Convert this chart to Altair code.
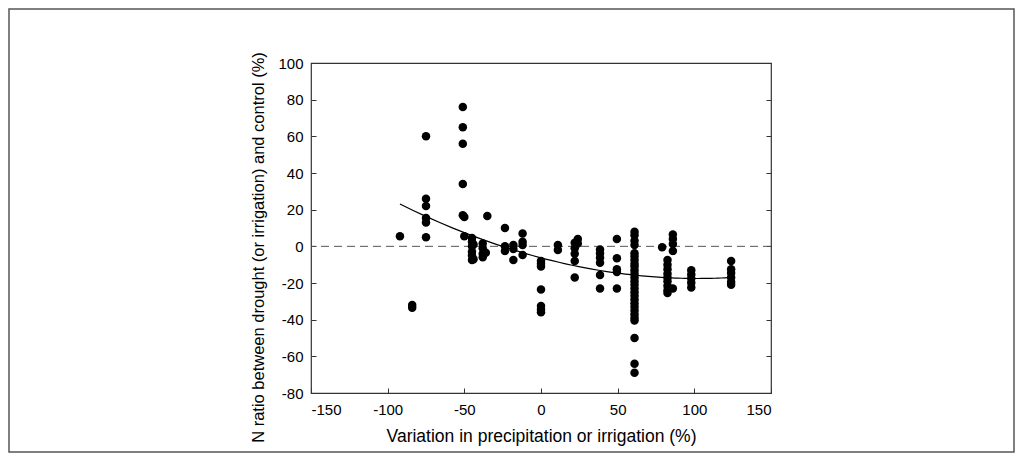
import altair as alt
import pandas as pd

# Data: each x column with its y values
col_x = [-92, -84, -75, -51, -50, -45, -44, -38, -36, -35, -23.5, -18, -12,
         0, 11, 22, 24, 38.5, 49.5, 61, 79, 82.5, 86, 98, 124]
col_y = [
    [5.5],
    [-32, -33.5],
    [60, 26, 22, 15.5, 13, 5],
    [76, 65, 56, 34, 17],
    [16, 5.5],
    [4.5, 2.5, 0, -3, -5, -7.5],
    [1, -7],
    [1.5, -1, -4, -6],
    [-3.5],
    [16.5],
    [10, 0, -2.5],
    [0.7, -1.5, -7.5],
    [7, 2.5, 0.7, -4.7],
    [-8, -9.5, -11, -23.5, -32.5, -34.5, -36],
    [0.7, -2],
    [2, -1, -4, -8, -17],
    [4, 1.5],
    [-1.7, -3.8, -6.2, -9, -15.7, -23],
    [4, -6.5, -12.5, -14, -23],
    [8, 6, 3, 0.7, -3.8, -5.5, -7.5, -9.5, -11, -13, -15, -17, -19, -21, -23,
     -25, -27, -29, -31, -33, -35, -37, -39, -40.5, -50, -64, -69],
    [-0.5],
    [-7.5, -10, -12.5, -15, -17, -19, -21.5, -24, -25.5],
    [6.5, 4, 1.3, -2.5, -23],
    [-13, -15.3, -17.5, -19.8, -22.5],
    [-8, -12.5, -14.5, -17, -19.5, -21],
]
x_ticks = [-150, -100, -50, 0, 50, 100, 150]
y_ticks = [-80, -60, -40, -20, 0, 20, 40, 60, 80, 100]
fit_extent = [-92, 124]
zero_line = [0]

rows = []
for xv, ys in zip(col_x, col_y):
    for yv in ys:
        rows.append({"x": xv, "y": yv})
df = pd.DataFrame(rows)
zero_df = pd.DataFrame({"y0": zero_line})

FONT = "Liberation Sans"
xs = alt.Scale(domain=[-150, 150], nice=False, zero=False)
ys = alt.Scale(domain=[-80, 100], nice=False, zero=False)

x_title = "Variation in precipitation or irrigation (%)"
y_title = "N ratio between drought (or irrigation) and control (%)"
plain = "toString(datum.value)"

points = alt.Chart(df).mark_circle(size=72, color="black", opacity=1).encode(
    x=alt.X("x:Q", scale=xs, axis=alt.Axis(
        orient="bottom", values=x_ticks, ticks=False, domain=False, grid=False,
        labelExpr=plain,
        labelPadding=9, labelFontSize=15, labelFont=FONT, labelColor="black",
        title=x_title, titleFont=FONT, titleFontSize=17.5, titleFontWeight="normal",
        titleColor="black", titlePadding=10)),
    y=alt.Y("y:Q", scale=ys, axis=alt.Axis(
        orient="left", values=y_ticks, ticks=False, domain=False, grid=False,
        labelExpr=plain,
        labelPadding=8, labelFontSize=15, labelFont=FONT, labelColor="black",
        title=y_title, titleFont=FONT, titleFontSize=16.5, titleFontWeight="normal",
        titleColor="black", titlePadding=11, titleY=184)),
)

fit = alt.Chart(df).transform_regression(
    "x", "y", method="poly", order=2, extent=fit_extent
).mark_line(color="black", strokeWidth=1.2).encode(
    x=alt.X("x:Q", scale=xs, axis=alt.Axis(
        orient="bottom", offset=-5, values=x_ticks, tickSize=5, tickColor="#333",
        labels=False, domain=False, grid=False, title="")),
    y=alt.Y("y:Q", scale=ys, axis=alt.Axis(
        orient="left", offset=-5, values=y_ticks, tickSize=5, tickColor="#333",
        labels=False, domain=False, grid=False, title="")),
)

zero = alt.Chart(zero_df).mark_rule(color="#555", strokeWidth=1, strokeDash=[8, 5]).encode(
    y=alt.Y("y0:Q", scale=ys, axis=alt.Axis(
        orient="right", offset=-5, values=y_ticks, tickSize=5, tickColor="#333",
        labels=False, domain=False, grid=False, title="")),
)

frame = alt.Chart(alt.Data(values=[{"f": 1}])).mark_rect(
    fill="transparent", stroke="#555", strokeWidth=1.5
).encode(
    x=alt.value(-302), x2=alt.value(703), y=alt.value(-54), y2=alt.value(389)
)

chart = alt.layer(zero, fit, points, frame).resolve_axis(
    x="independent", y="independent"
).properties(
    width=460, height=330,
    autosize=alt.AutoSizeParams(type="none"),
    padding={"left": 303, "top": 55, "right": 244, "bottom": 60},
).configure_view(stroke="#333", strokeWidth=1.2)

chart.save("out.html", embed_options={"renderer": "svg", "actions": False})
